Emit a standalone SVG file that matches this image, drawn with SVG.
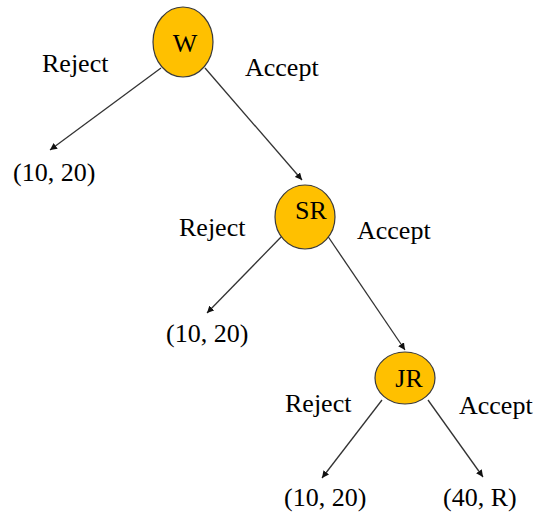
<svg xmlns="http://www.w3.org/2000/svg" width="534" height="517" viewBox="0 0 534 517">
<defs>
<marker id="ah" viewBox="0 0 10 10" refX="10" refY="5" markerWidth="7" markerHeight="7" markerUnits="userSpaceOnUse" orient="auto">
<path d="M0,0 L10,5 L0,10 z" fill="#111"/>
</marker>
</defs>
<style>
.n{fill:#FFC000;stroke:#3a3a3a;stroke-width:1.2}
text{font-family:'Liberation Serif','Times New Roman',Times,serif;font-size:26px;fill:#000}
.e{stroke:#333;stroke-width:1.3;fill:none;marker-end:url(#ah)}
</style>
<rect width="534" height="517" fill="#fff"/>
<g id="connectors">
<line class="e" x1="161" y1="68" x2="50" y2="150"/>
<line class="e" x1="205" y1="68" x2="302" y2="180"/>
<line class="e" x1="283" y1="235" x2="207" y2="313"/>
<line class="e" x1="327" y1="235" x2="405" y2="350"/>
<line class="e" x1="382" y1="400" x2="322" y2="478"/>
<line class="e" x1="428" y1="400" x2="483" y2="477"/>
</g>
<g id="W">
<ellipse class="n" cx="183" cy="42" rx="30" ry="35"/>
<text x="185" y="52" text-anchor="middle">W</text>
</g>
<g id="SR">
<ellipse class="n" cx="305" cy="217" rx="30" ry="32"/>
<text x="311" y="219" text-anchor="middle">SR</text>
</g>
<g id="JR">
<ellipse class="n" cx="405" cy="378" rx="30" ry="26"/>
<text x="409" y="387" text-anchor="middle">JR</text>
</g>
<g id="labels">
<text x="42" y="72">Reject</text>
<text x="245" y="76">Accept</text>
<text x="179" y="236">Reject</text>
<text x="357" y="239">Accept</text>
<text x="285" y="412">Reject</text>
<text x="459" y="414">Accept</text>
</g>
<g id="leaf1"><text x="13" y="181">(10, 20)</text></g>
<g id="leaf2"><text x="166" y="342">(10, 20)</text></g>
<g id="leaf3"><text x="284" y="506">(10, 20)</text></g>
<g id="leaf4"><text x="443" y="506">(40, R)</text></g>
</svg>
